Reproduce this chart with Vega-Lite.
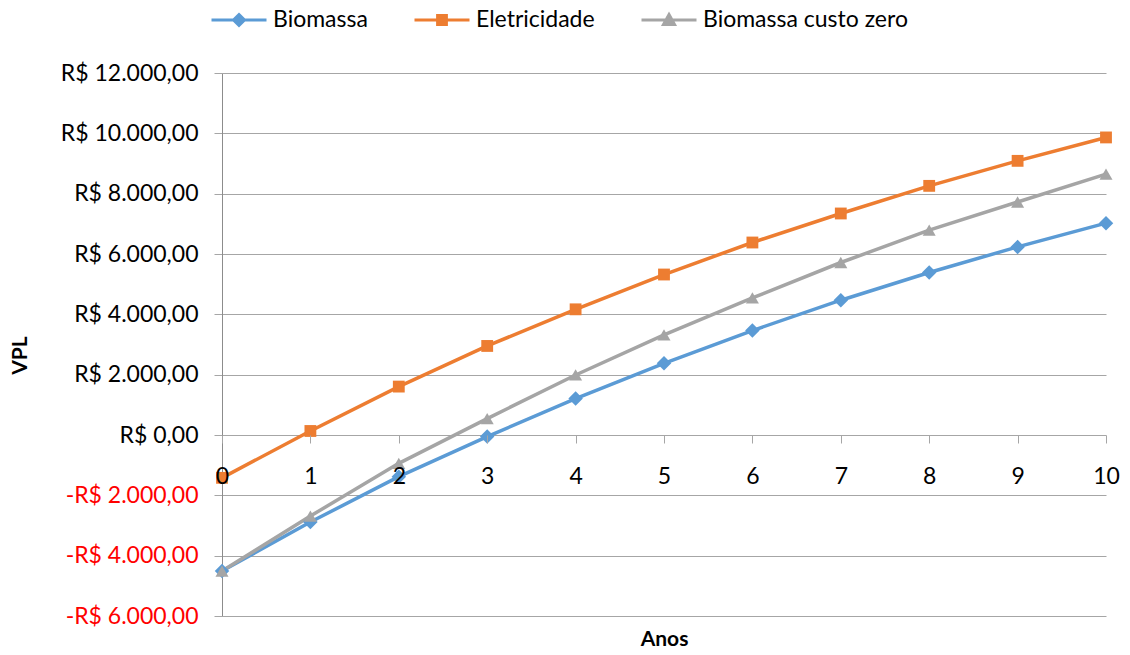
{
  "$schema": "https://vega.github.io/schema/vega-lite/v6.json",
  "width": 884,
  "height": 543,
  "autosize": {"type": "none"},
  "padding": {"left": 222, "top": 73, "right": 24, "bottom": 39},
  "background": "white",
  "config": {
    "font": "Lato",
    "view": {"stroke": null}
  },
  "data": {
    "values": [
      {"ano": 0, "serie": "Biomassa", "vpl": -4510},
      {"ano": 1, "serie": "Biomassa", "vpl": -2886},
      {"ano": 2, "serie": "Biomassa", "vpl": -1380},
      {"ano": 3, "serie": "Biomassa", "vpl": -53},
      {"ano": 4, "serie": "Biomassa", "vpl": 1207},
      {"ano": 5, "serie": "Biomassa", "vpl": 2378},
      {"ano": 6, "serie": "Biomassa", "vpl": 3463},
      {"ano": 7, "serie": "Biomassa", "vpl": 4468},
      {"ano": 8, "serie": "Biomassa", "vpl": 5387},
      {"ano": 9, "serie": "Biomassa", "vpl": 6236},
      {"ano": 10, "serie": "Biomassa", "vpl": 7022},
      {"ano": 0, "serie": "Eletricidade", "vpl": -1420},
      {"ano": 1, "serie": "Eletricidade", "vpl": 133},
      {"ano": 2, "serie": "Eletricidade", "vpl": 1605},
      {"ano": 3, "serie": "Eletricidade", "vpl": 2952},
      {"ano": 4, "serie": "Eletricidade", "vpl": 4166},
      {"ano": 5, "serie": "Eletricidade", "vpl": 5320},
      {"ano": 6, "serie": "Eletricidade", "vpl": 6381},
      {"ano": 7, "serie": "Eletricidade", "vpl": 7343},
      {"ano": 8, "serie": "Eletricidade", "vpl": 8259},
      {"ano": 9, "serie": "Eletricidade", "vpl": 9088},
      {"ano": 10, "serie": "Eletricidade", "vpl": 9864},
      {"ano": 0, "serie": "Biomassa custo zero", "vpl": -4510},
      {"ano": 1, "serie": "Biomassa custo zero", "vpl": -2687},
      {"ano": 2, "serie": "Biomassa custo zero", "vpl": -939},
      {"ano": 3, "serie": "Biomassa custo zero", "vpl": 544},
      {"ano": 4, "serie": "Biomassa custo zero", "vpl": 1990},
      {"ano": 5, "serie": "Biomassa custo zero", "vpl": 3317},
      {"ano": 6, "serie": "Biomassa custo zero", "vpl": 4544},
      {"ano": 7, "serie": "Biomassa custo zero", "vpl": 5718},
      {"ano": 8, "serie": "Biomassa custo zero", "vpl": 6790},
      {"ano": 9, "serie": "Biomassa custo zero", "vpl": 7724},
      {"ano": 10, "serie": "Biomassa custo zero", "vpl": 8647}
    ]
  },
  "encoding": {
    "x": {
      "field": "ano",
      "type": "quantitative",
      "scale": {"domain": [0, 10], "nice": false, "zero": false},
      "axis": {
        "orient": "bottom",
        "offset": -181,
        "values": [0, 1, 2, 3, 4, 5, 6, 7, 8, 9, 10],
        "grid": false,
        "domain": false,
        "ticks": true,
        "tickSize": 8,
        "tickColor": "#a6a6a6",
        "tickWidth": 1,
        "labelFontSize": 23,
        "labelColor": "#000000",
        "labelPadding": 22,
        "labelFlush": false,
        "labelOverlap": false,
        "labelAlign": "center",
        "title": "Anos",
        "titleFontSize": 21,
        "titleFontWeight": "bold",
        "titleColor": "#000000",
        "titleBaseline": "alphabetic",
        "titleY": 210,
        "zindex": 1
      }
    },
    "y": {
      "field": "vpl",
      "type": "quantitative",
      "scale": {"domain": [-6000, 12000], "nice": false, "zero": false},
      "axis": {
        "values": [-6000, -4000, -2000, 0, 2000, 4000, 6000, 8000, 10000, 12000],
        "grid": true,
        "gridColor": "#a6a6a6",
        "gridWidth": 1,
        "domain": true,
        "domainColor": "#8c8c8c",
        "domainWidth": 1,
        "ticks": true,
        "tickSize": 8,
        "tickColor": "#a6a6a6",
        "labelFontSize": 23,
        "labelPadding": 16,
        "labelExpr": "(datum.value < 0 ? '-' : '') + 'R$ ' + replace(replace(replace(format(abs(datum.value), ',.2f'), ',', '#'), '.', ','), '#', '.')",
        "labelColor": {"condition": {"test": "datum.value < 0", "value": "#ff0000"}, "value": "#000000"},
        "title": "VPL",
        "titleFontSize": 21,
        "titleFontWeight": "bold",
        "titleColor": "#000000",
        "titleX": -202,
        "titleY": 282,
        "titleBaseline": "middle",
        "titleAlign": "center"
      }
    },
    "color": {
      "field": "serie",
      "type": "nominal",
      "scale": {
        "domain": ["Biomassa", "Eletricidade", "Biomassa custo zero"],
        "range": ["#5b9bd5", "#ed7d31", "#a5a5a5"]
      },
      "legend": {
        "title": null,
        "orient": "none",
        "direction": "horizontal",
        "legendX": -12,
        "legendY": -82,
        "symbolSize": 3025,
        "symbolStrokeWidth": 3,
        "labelFontSize": 23,
        "labelLimit": 400,
        "labelColor": "#000000",
        "labelOffset": 5,
        "columnPadding": 40,
        "encode": {
          "symbols": {
            "update": {
              "shape": {"signal": "datum.value === 'Biomassa' ? 'M-1,0H1M0,-0.2L0.2,0L0,0.2L-0.2,0Z' : datum.value === 'Eletricidade' ? 'M-1,0H1M-0.16,-0.16H0.16V0.16H-0.16Z' : 'M-1,0H1M0,-0.2L0.2,0.16L-0.2,0.16Z'"},
              "fill": {"scale": "color", "field": "value"},
              "stroke": {"scale": "color", "field": "value"},
              "strokeWidth": {"value": 3},
              "opacity": {"value": 1}
            }
          }
        }
      }
    }
  },
  "layer": [
    {
      "mark": {"type": "line", "strokeWidth": 3.5}
    },
    {
      "transform": [{"filter": "datum.serie === 'Biomassa'"}],
      "mark": {"type": "point", "shape": "diamond", "filled": true, "opacity": 1, "size": 210}
    },
    {
      "transform": [{"filter": "datum.serie === 'Eletricidade'"}],
      "mark": {"type": "point", "shape": "square", "filled": true, "opacity": 1, "size": 140}
    },
    {
      "transform": [{"filter": "datum.serie === 'Biomassa custo zero'"}],
      "mark": {"type": "point", "shape": "triangle-up", "filled": true, "opacity": 1, "size": 170}
    }
  ]
}
